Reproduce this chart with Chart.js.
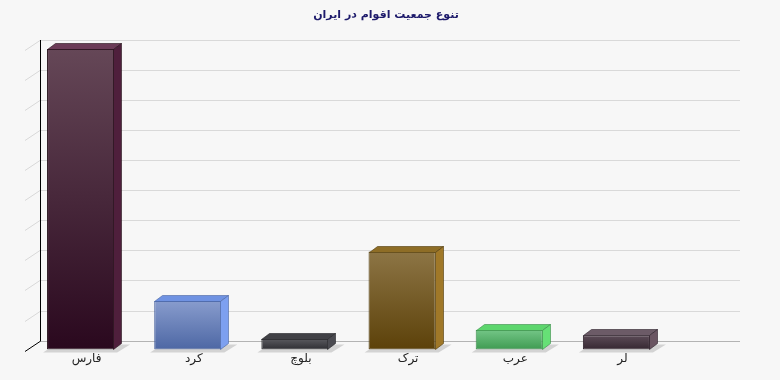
<!DOCTYPE html>
<html lang="fa">
<head>
<meta charset="utf-8">
<title>تنوع جمعیت اقوام در ایران</title>
<script src="https://cdn.jsdelivr.net/npm/chart.js@4.4.1/dist/chart.umd.min.js"></script>
<style>
    html, body { margin: 0; padding: 0; background: #f7f7f7; }
    #wrap { width: 780px; height: 380px; position: relative; }
</style>
</head>
<body>
<div id="wrap"><canvas id="chartAqvam" width="780" height="380"></canvas></div>
<script>
// داده‌ها
const onvan      = 'تنوع جمعیت اقوام در ایران';
const aqvam      = ['فارس', 'کرد', 'بلوچ', 'ترک', 'عرب', 'لر'];
const jamiyat    = [50, 8.1, 1.8, 16.3, 3.3, 2.4];
const rangBala   = ['#654757', '#889ccd', '#5a5a5f', '#8d7545', '#74c687', '#5d4c58'];
const rangPayin  = ['#2a081e', '#4d67a4', '#2e2e33', '#5c4109', '#3e9b51', '#352731'];
const rangKenar  = ['#4f1f3c', '#7da0f0', '#4b4b51', '#a07828', '#66e076', '#6a5562'];
const rangSaqf   = ['#6b3b57', '#6f92e2', '#414146', '#8e6d26', '#5dd66d', '#6c5b67'];
const rangKhat   = ['#241019', '#4a64a0', '#232326', '#4f3808', '#3a8a4a', '#2c2029'];
const yMax = 50;
const yStep = 5;

const FONT = '"DejaVu Sans", Tahoma, sans-serif';

// ==========================================================
// ابعاد سه‌بعدی
// ==========================================================
const DX = 8, DY = 6;          // عمق ستون‌ها
const WALL_DX = 15, WALL_DY = 10;

const plugin3d = {
    id: 'bar3d',
    beforeDatasetsDraw(chart) {
        const ctx = chart.ctx;
        const area = chart.chartArea;
        const y = chart.scales.y;
        const backL = area.left + 13;
        const backR = area.right + 70;

        ctx.save();
        // عنوان
        ctx.fillStyle = '#1d1a6b';
        ctx.font = 'bold 11px ' + FONT;
        ctx.textAlign = 'center';
        ctx.textBaseline = 'middle';
        ctx.fillText(onvan, chart.width / 2 - 4, 15);

        // خطوط شبکه روی دیوار پشتی
        for (let v = yStep; v <= yMax; v += yStep) {
            const yb = Math.round(y.getPixelForValue(v) - 9) + 0.5;
            ctx.strokeStyle = '#d9d9d9';
            ctx.lineWidth = 1;
            ctx.beginPath();
            ctx.moveTo(backL, yb);
            ctx.lineTo(backR, yb);
            ctx.moveTo(backL - WALL_DX, yb + WALL_DY);
            ctx.lineTo(backL, yb);
            ctx.stroke();
        }
        // کف
        const y0 = Math.round(y.getPixelForValue(0) - 9) + 0.5;
        ctx.strokeStyle = '#b3b3b3';
        ctx.beginPath();
        ctx.moveTo(backL, y0);
        ctx.lineTo(backR, y0);
        ctx.stroke();
        // محور عمودی و خط مورب پایین
        const yTop = Math.round(y.getPixelForValue(yMax) - 9);
        ctx.strokeStyle = '#000';
        ctx.beginPath();
        ctx.moveTo(backL + 0.5, yTop);
        ctx.lineTo(backL + 0.5, y0);
        ctx.moveTo(backL - WALL_DX, y0 + WALL_DY);
        ctx.lineTo(backL, y0);
        ctx.stroke();

        // سایه ستون‌ها
        const meta = chart.getDatasetMeta(0);
        ctx.fillStyle = '#d3d3d3';
        meta.data.forEach(bar => {
            const L = bar.x - bar.width / 2, R = bar.x + bar.width / 2, b = bar.base;
            ctx.beginPath();
            ctx.moveTo(L - 4, b + 3);
            ctx.lineTo(R + 3, b + 3);
            ctx.lineTo(R + DX + 8, b - DY + 1);
            ctx.lineTo(L + DX, b - DY + 1);
            ctx.closePath();
            ctx.fill();
        });
        ctx.restore();
    },
    afterDatasetsDraw(chart) {
        const ctx = chart.ctx;
        const meta = chart.getDatasetMeta(0);
        ctx.save();
        ctx.lineWidth = 1;
        meta.data.forEach((bar, i) => {
            const L = Math.round(bar.x - bar.width / 2) + 0.5;
            const R = Math.round(bar.x + bar.width / 2) - 0.5;
            const t = Math.round(bar.y) + 0.5;
            const b = Math.round(bar.base) - 0.5;
            ctx.strokeStyle = rangKhat[i];

            // سقف
            ctx.fillStyle = rangSaqf[i];
            ctx.beginPath();
            ctx.moveTo(L, t);
            ctx.lineTo(L + DX, t - DY);
            ctx.lineTo(R + DX, t - DY);
            ctx.lineTo(R, t);
            ctx.closePath();
            ctx.fill();
            ctx.globalAlpha = 0.6;
            ctx.stroke();
            ctx.globalAlpha = 1;

            // کناره
            ctx.fillStyle = rangKenar[i];
            ctx.beginPath();
            ctx.moveTo(R, t);
            ctx.lineTo(R + DX, t - DY);
            ctx.lineTo(R + DX, b - DY);
            ctx.lineTo(R, b);
            ctx.closePath();
            ctx.fill();
            ctx.globalAlpha = 0.6;
            ctx.stroke();
            ctx.globalAlpha = 1;
        });
        ctx.restore();
    }
};

const ctx = document.getElementById('chartAqvam').getContext('2d');
new Chart(ctx, {
    type: 'bar',
    data: {
        labels: aqvam,
        datasets: [{
            data: jamiyat,
            backgroundColor: function (c) {
                const chart = c.chart;
                const ys = chart.scales.y;
                if (!ys || !chart.chartArea) return rangBala[c.dataIndex];
                const top = ys.getPixelForValue(c.raw);
                const bot = ys.getPixelForValue(0);
                const g = chart.ctx.createLinearGradient(0, top, 0, bot);
                g.addColorStop(0, rangBala[c.dataIndex]);
                g.addColorStop(1, rangPayin[c.dataIndex]);
                return g;
            },
            borderColor: rangKhat,
            borderWidth: 1,
            borderSkipped: false,
            barPercentage: 0.626,
            categoryPercentage: 1
        }]
    },
    options: {
        responsive: false,
        animation: false,
        devicePixelRatio: 1,
        layout: { padding: { left: 27, right: 110, top: 49, bottom: 12 } },
        plugins: {
            legend: { display: false },
            tooltip: { enabled: false },
            title: { display: false }
        },
        scales: {
            y: { display: false, min: 0, max: yMax, ticks: { stepSize: yStep } },
            x: {
                grid: { display: false, drawTicks: false },
                border: { display: false },
                ticks: {
                    color: '#222',
                    padding: 2,
                    maxRotation: 0,
                    labelOffset: 6,
                    font: { family: FONT, size: 12 }
                }
            }
        }
    },
    plugins: [plugin3d]
});
</script>
</body>
</html>
